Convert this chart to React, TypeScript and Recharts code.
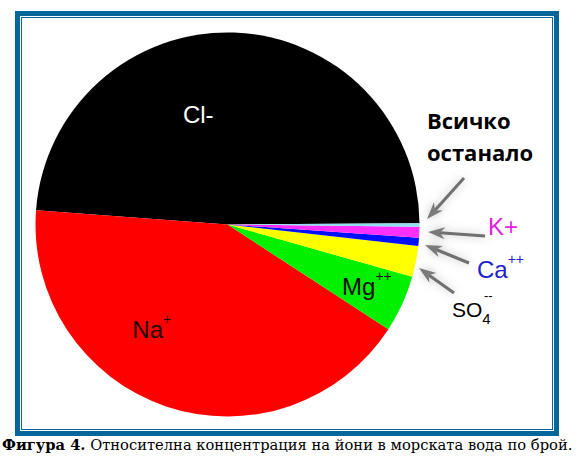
import { PieChart, Pie, Cell } from 'recharts';

// ion shares in sea water, counter-clockwise from the right
const ions = ['Cl-', 'Na+', 'Mg++', 'SO4--', 'Ca++', 'K+', 'Всичко останало'];
const shares = [48.7, 42.0, 4.8, 2.6, 0.7, 0.9, 0.3];
const colors = ['#000000', '#ff0000', '#00f000', '#ffff00', '#0010ff', '#ff30ff', '#90e0f0'];

const data = ions.map((name, i) => ({ name, value: shares[i] }));

const RAD = Math.PI / 180;
const SANS = 'Liberation Sans, Arial, sans-serif';

// where the in-slice labels sit (polar, around the pie centre)
const labelPos: Record<string, { angle: number; r: number }> = {
  'Cl-': { angle: 106, r: 106 },
  'Na+': { angle: 230, r: 148 },
  'Mg++': { angle: 328.4, r: 134.5 },
};

function renderLabel(props: any) {
  const { cx, cy, index } = props;
  const name = ions[index];
  const p = labelPos[name];
  if (!p) return null;
  const x = cx + p.r * Math.cos(-p.angle * RAD);
  const y = cy + p.r * Math.sin(-p.angle * RAD);
  if (name === 'Cl-') {
    return (
      <text x={x} y={y} textAnchor="middle" fill="#fff" fontSize={24} fontFamily={SANS}>
        Cl-
      </text>
    );
  }
  const base = name.replace(/[+-]+$/, '');
  const sup = name.slice(base.length);
  return (
    <text x={x} y={y} fill="#1a0a0a" fontSize={24} fontFamily={SANS}>
      {base}
      <tspan dy={-14} fontSize={14}>{sup}</tspan>
    </text>
  );
}

const arrows = [
  { x1: 464, y1: 178, x2: 427, y2: 219 },
  { x1: 485, y1: 236, x2: 428, y2: 232 },
  { x1: 469, y1: 263, x2: 425, y2: 245 },
  { x1: 454, y1: 293, x2: 419, y2: 268 },
];

function Arrow({ x1, y1, x2, y2 }: { x1: number; y1: number; x2: number; y2: number }) {
  const a = Math.atan2(y2 - y1, x2 - x1);
  const len = 17;
  const w = 6;
  const bx = x2 - len * Math.cos(a);
  const by = y2 - len * Math.sin(a);
  const nx = -Math.sin(a);
  const ny = Math.cos(a);
  const mx = x2 - len * 0.7 * Math.cos(a);
  const my = y2 - len * 0.7 * Math.sin(a);
  const pts = [
    [x2, y2],
    [bx + nx * w, by + ny * w],
    [mx, my],
    [bx - nx * w, by - ny * w],
  ]
    .map((p) => p.join(','))
    .join(' ');
  return (
    <g filter="url(#soft)">
      <line x1={x1} y1={y1} x2={mx} y2={my} stroke="#6f6f6f" strokeWidth={3} />
      <polygon points={pts} fill="#7a7a7a" />
    </g>
  );
}

export default function App() {
  return (
    <div style={{ position: 'absolute', left: 0, top: 0, width: 580, height: 460, background: '#fff' }}>
      <div
        style={{
          position: 'absolute',
          left: 15,
          top: 11,
          width: 544,
          height: 425,
          boxSizing: 'border-box',
          border: '5px solid #07669a',
        }}
      />
      <div
        style={{
          position: 'absolute',
          left: 21,
          top: 17,
          width: 532,
          height: 413,
          boxSizing: 'border-box',
          border: '1px solid #07669a',
        }}
      />
      <div style={{ position: 'absolute', left: 0, top: 0 }}>
        <PieChart width={580} height={460} margin={{ top: 0, right: 0, bottom: 0, left: 0 }}>
          <Pie
            data={data}
            dataKey="value"
            nameKey="name"
            cx={227.5}
            cy={224.5}
            outerRadius={192}
            startAngle={0.4}
            endAngle={360.4}
            stroke="none"
            label={renderLabel}
            labelLine={false}
            isAnimationActive={false}
          >
            {data.map((d, i) => (
              <Cell key={d.name} fill={colors[i]} />
            ))}
          </Pie>
        </PieChart>
      </div>
      <svg width={580} height={460} style={{ position: 'absolute', left: 0, top: 0, pointerEvents: 'none' }}>
        <defs>
          <filter id="soft" x="-50%" y="-50%" width="200%" height="200%">
            <feGaussianBlur in="SourceAlpha" stdDeviation={5} result="b" />
            <feFlood floodColor="#777" floodOpacity={0.5} />
            <feComposite in2="b" operator="in" result="s" />
            <feMerge>
              <feMergeNode in="s" />
              <feMergeNode in="SourceGraphic" />
            </feMerge>
          </filter>
        </defs>
        {arrows.map((a, i) => (
          <Arrow key={i} {...a} />
        ))}
        <text x={427} y={129} fontFamily="Open Sans, sans-serif" fontWeight={700} fontSize={22} fill="#000">
          Всичко
        </text>
        <text x={427} y={161} fontFamily="Open Sans, sans-serif" fontWeight={700} fontSize={22} fill="#000">
          останало
        </text>
        <text x={488} y={235} fontFamily={SANS} fontSize={24} fill="#e020e0">
          K+
        </text>
        <text x={477} y={278} fontFamily={SANS} fontSize={24} fill="#2222c8">
          Ca<tspan dy={-14} fontSize={14}>++</tspan>
        </text>
        <text x={452} y={317} fontFamily={SANS} fontSize={21} fill="#000">
          SO<tspan dy={7} fontSize={15}>4</tspan>
          <tspan x={484} y={300} fontSize={13}>--</tspan>
        </text>
      </svg>
      <div
        style={{
          position: 'absolute',
          left: 2,
          top: 436,
          width: 578,
          whiteSpace: 'nowrap',
          fontFamily: 'DejaVu Serif, serif',
          fontSize: 14.7,
          lineHeight: '18px',
          color: '#000',
        }}
      >
        <b>Фигура 4.</b> Относителна концентрация на йони в морската вода по брой.
      </div>
    </div>
  );
}
